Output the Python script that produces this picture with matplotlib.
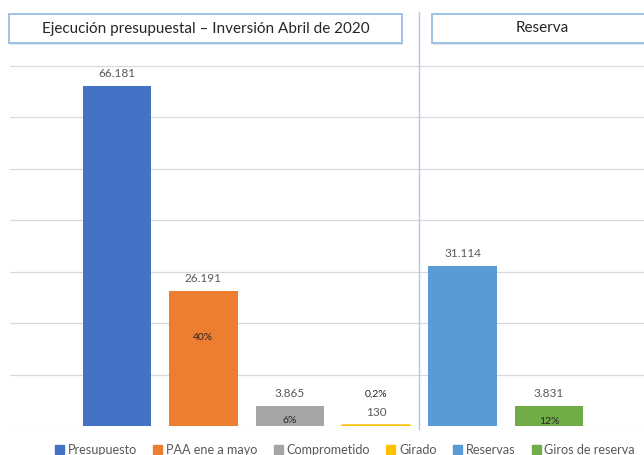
import matplotlib.pyplot as plt
from matplotlib.patches import Rectangle
from matplotlib.lines import Line2D

categories = ["Presupuesto", "PAA ene a mayo", "Comprometido", "Girado", "Reservas", "Giros de reserva"]
values = [66181, 26191, 3865, 130, 31114, 3831]
value_labels = ["66.181", "26.191", "3.865", "130", "31.114", "3.831"]
colors = ["#4472C4", "#ED7D31", "#A5A5A5", "#FFC000", "#5B9BD5", "#70AD47"]
pct_labels = {1: "40%", 2: "6%", 3: "0,2%", 5: "12%"}
pct_y = {1: 17300, 2: 1150, 3: 6200, 5: 950}

W, H = 644, 455
FONT = "Lato"
plt.rcParams["font.family"] = [FONT, "DejaVu Sans"]

fig = plt.figure(figsize=(W / 100, H / 100), dpi=100)
fig.patch.set_facecolor("white")

# axes placed in pixel terms: left 10, right 644, baseline 426, top 60
ax_top, ax_bot = 60, 426
ax = fig.add_axes([10 / W, (H - ax_bot) / H, (W - 10) / W, (ax_bot - ax_top) / H])
ymax = 70000 * (ax_bot - ax_top) / 360
ax.set_ylim(0, ymax)
ax.set_xlim(-1.24, 6.1)

x = list(range(len(categories)))
bars = ax.bar(x, values, width=0.79, color=colors, linewidth=0, zorder=3)
# the tiny "Girado" bar shows only as a thin line on the baseline
ax.plot([3 - 0.395, 3 + 0.395], [150, 150], color=colors[3], lw=1.2, zorder=4, alpha=0.8)

ax.set_yticks(range(0, 70001, 10000))
ax.yaxis.grid(True, color="#d9d9d9", lw=0.9, zorder=0)
ax.tick_params(left=False, bottom=False, labelleft=False, labelbottom=False)
for s in ax.spines.values():
    s.set_visible(False)

for xi, v, lab in zip(x, values, value_labels):
    ax.annotate(lab, (xi, v), xytext=(0, 5), textcoords="offset points",
                ha="center", va="bottom", fontsize=8.5, color="#595959")

for i, lab in pct_labels.items():
    ax.text(i, pct_y[i], lab, ha="center", va="center", fontsize=7.5, color="#262626")

# vertical separator between sections
fig.add_artist(Line2D([419 / W, 419 / W], [1 - 12 / H, 1 - 429 / H],
                      color="#b4c7e7", lw=1.0))

# title boxes
def title_box(x0, x1, text):
    y0, y1 = 14, 43
    fig.add_artist(Rectangle((x0 / W + 0.002, 1 - (y1 + 2) / H), (x1 - x0) / W, (y1 - y0) / H,
                             transform=fig.transFigure, facecolor="#e6e6e6", edgecolor="none"))
    fig.add_artist(Rectangle((x0 / W, 1 - y1 / H), (x1 - x0) / W, (y1 - y0) / H,
                             transform=fig.transFigure, facecolor="white",
                             edgecolor="#9dc3e6", lw=1.4))
    fig.text((x0 + x1) / 2 / W, 1 - (y0 + y1) / 2 / H, text, ha="center", va="center",
             fontsize=11, color="#262626")

title_box(9, 402, "Ejecución presupuestal – Inversión Abril de 2020")
title_box(432, 652, "Reserva")

handles = [Rectangle((0, 0), 1, 1, color=c) for c in colors]
fig.legend(handles, categories, loc="center", bbox_to_anchor=(345 / W, 1 - 450 / H),
           ncol=6, frameon=False, fontsize=9.1, handlelength=0.7, handleheight=0.7,
           handletextpad=0.3, columnspacing=1.3, labelcolor="#595959")

fig.savefig("out.png", dpi=100, facecolor="white")
